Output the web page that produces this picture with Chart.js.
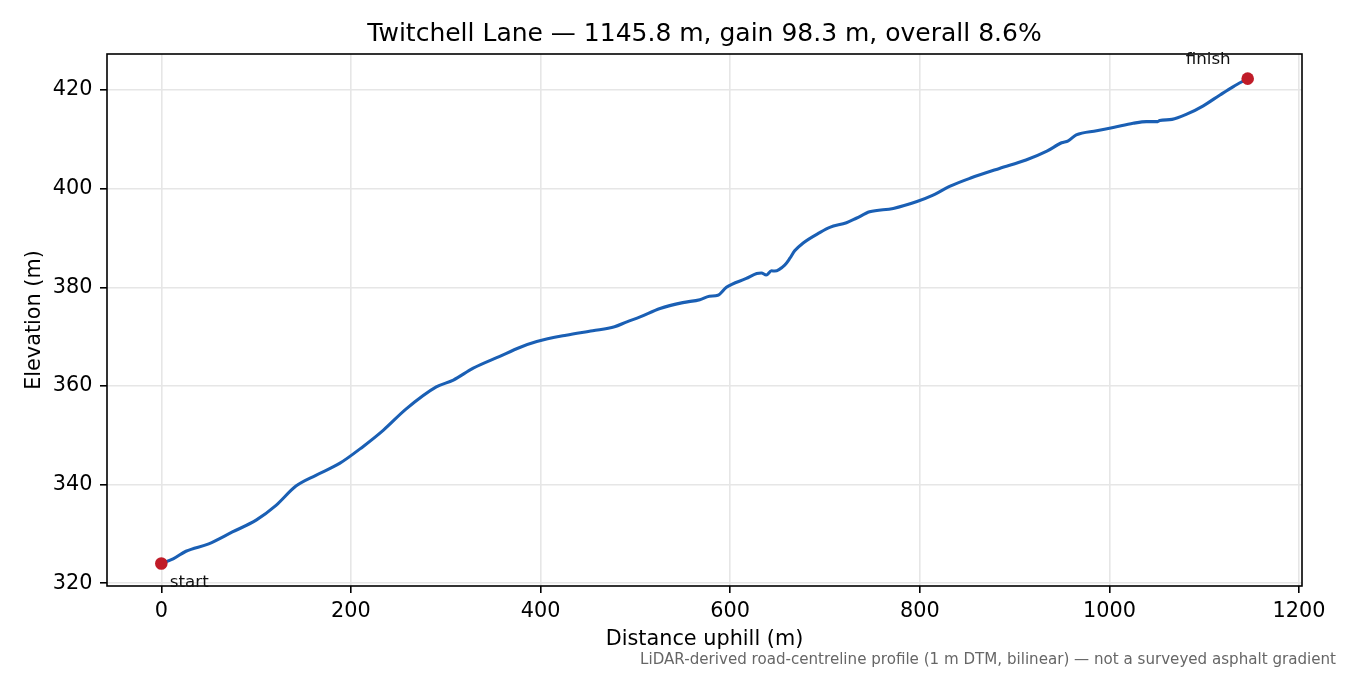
<!DOCTYPE html>
<html>
<head>
<meta charset="utf-8">
<title>Twitchell Lane elevation profile</title>
<script src="https://cdn.jsdelivr.net/npm/chart.js@4.4.1/dist/chart.umd.min.js"></script>
<style>
  html, body { margin: 0; padding: 0; background: #fff; }
  canvas { display: block; }
</style>
</head>
<body>
<canvas id="profile" width="1350" height="675"></canvas>
<script>
// distance along the lane (m) and elevation (m)
const distance = [0, 13, 26, 50, 75, 100, 121, 142, 163, 188, 212, 234, 258, 290, 308, 329, 357, 378, 396,
    427, 455, 478, 491, 505, 526, 550, 568, 578, 587, 596, 617, 628, 633, 638, 643.5, 647, 657.5, 663, 668,
    677, 694.5, 705, 722.6, 733, 747, 772, 797, 814, 832, 853, 884, 912, 934, 949.5, 956.5, 965,
    986.5, 1004, 1025, 1039, 1051, 1053, 1066, 1081.5, 1099, 1116.6, 1130.7, 1145.8];
const elevation = [324.0, 325.0, 326.5, 328.0, 330.4, 332.8, 335.8, 339.7, 341.9, 344.3, 347.6, 351.0, 355.3, 359.8, 361.2, 363.6, 366.0, 367.8, 369.0,
    370.3, 371.2, 372.0, 373.0, 374.0, 375.7, 376.9, 377.5, 378.2, 378.4, 380.0, 381.8, 382.8, 382.9, 382.5, 383.35, 383.3, 384.5, 385.9, 387.4,
    389.0, 391.1, 392.15, 393.1, 394.0, 395.3, 396.0, 397.4, 398.7, 400.5, 402.1, 404.1, 405.8, 407.6, 409.3, 409.7, 410.9,
    411.75, 412.4, 413.25, 413.6, 413.6, 413.8, 414.05, 415.1, 416.8, 419.0, 420.7, 422.3];

const endLabels = ['start', 'finish'];
const xTicks = [0, 200, 400, 600, 800, 1000, 1200];
const yTicks = [320, 340, 360, 380, 400, 420];

const titleText = 'Twitchell Lane \u2014 1145.8 m, gain 98.3 m, overall 8.6%';
const footnote = 'LiDAR-derived road-centreline profile (1 m DTM, bilinear) \u2014 not a surveyed asphalt gradient';

Chart.defaults.font.family = '"DejaVu Sans", sans-serif';
Chart.defaults.color = '#000';

const lineColor = '#1a5fb4';
const dotColor = '#c01c28';

const profilePoints = distance.map((d, i) => ({ x: d, y: elevation[i] }));
const last = distance.length - 1;
const endPoints = [
    { x: distance[0], y: elevation[0] },
    { x: distance[last], y: elevation[last] }
];

// title over the plot, box round the plot, end labels and the footnote
const decorations = {
    id: 'decorations',
    afterDraw(chart) {
        const ctx = chart.ctx;
        const area = chart.chartArea;
        ctx.save();
        ctx.strokeStyle = '#000';
        ctx.lineWidth = 1.6;
        ctx.strokeRect(area.left, area.top, area.right - area.left, area.bottom - area.top);

        ctx.fillStyle = '#000';
        ctx.font = '25px "DejaVu Sans"';
        ctx.textAlign = 'center';
        ctx.textBaseline = 'middle';
        ctx.fillText(titleText, (area.left + area.right) / 2, 34);

        const pts = chart.getDatasetMeta(1).data;
        ctx.fillStyle = '#111';
        ctx.font = '16.7px "DejaVu Sans"';
        ctx.textAlign = 'left';
        ctx.fillText(endLabels[0], pts[0].x + 8.5, pts[0].y + 19.5);
        ctx.textAlign = 'right';
        ctx.fillText(endLabels[1], pts[1].x - 17, pts[1].y - 19);

        ctx.fillStyle = '#666';
        ctx.font = '15.1px "DejaVu Sans"';
        ctx.textAlign = 'right';
        ctx.fillText(footnote, 1336, 660);
        ctx.restore();
    }
};

const ctx = document.getElementById('profile').getContext('2d');
new Chart(ctx, {
    type: 'line',
    data: {
        datasets: [{
            data: profilePoints,
            borderColor: lineColor,
            borderWidth: 3.1,
            pointRadius: 0,
            cubicInterpolationMode: 'monotone',
            fill: false,
            order: 1
        }, {
            data: endPoints,
            showLine: false,
            pointRadius: 6.3,
            pointBackgroundColor: dotColor,
            pointBorderWidth: 0,
            clip: false,
            order: 0
        }]
    },
    options: {
        responsive: false,
        animation: false,
        devicePixelRatio: 1,
        layout: { padding: { top: 54, left: 0, right: 48, bottom: 19 } },
        plugins: {
            legend: { display: false },
            tooltip: { enabled: false },
            title: { display: false }
        },
        scales: {
            x: {
                type: 'linear',
                min: -57.29,
                max: 1203.09,
                afterBuildTicks: (scale) => { scale.ticks = xTicks.map(v => ({ value: v })); },
                afterFit: (scale) => { scale.height = 70; },
                ticks: {
                    font: { size: 20.8 },
                    color: '#000',
                    padding: 6,
                    maxRotation: 0,
                    callback: (v) => String(v)
                },
                grid: {
                    color: '#e6e6e6',
                    lineWidth: 1.6,
                    tickColor: '#000',
                    tickWidth: 1.6,
                    tickLength: 7
                },
                border: { display: false },
                title: {
                    display: true,
                    text: 'Distance uphill (m)',
                    color: '#000',
                    font: { size: 20.8 },
                    padding: { top: 0, bottom: 3.5 }
                }
            },
            y: {
                type: 'linear',
                min: 319.45,
                max: 427.3,
                afterBuildTicks: (scale) => { scale.ticks = yTicks.map(v => ({ value: v })); },
                afterFit: (scale) => { scale.width = 107; },
                ticks: {
                    font: { size: 20.8 },
                    color: '#000',
                    padding: 7.5,
                    callback: (v) => String(v)
                },
                grid: {
                    color: '#e6e6e6',
                    lineWidth: 1.6,
                    tickColor: '#000',
                    tickWidth: 1.6,
                    tickLength: 7
                },
                border: { display: false },
                title: {
                    display: true,
                    text: 'Elevation (m)',
                    color: '#000',
                    font: { size: 20.8 },
                    padding: { top: 22, bottom: 0 }
                }
            }
        }
    },
    plugins: [decorations]
});
</script>
</body>
</html>
